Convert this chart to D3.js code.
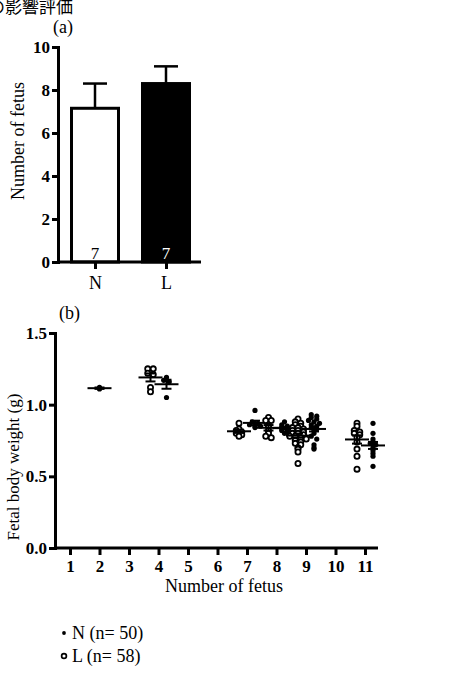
<!DOCTYPE html>
<html>
<head>
<meta charset="utf-8">
<script src="https://cdn.jsdelivr.net/npm/d3@7"></script>
<style>
  body { margin: 0; background: #fff; }
  svg { display: block; }
  text { font-family: "Liberation Serif", "Times New Roman", serif; fill: #000; }
</style>
</head>
<body>
<script>
// panel (a): number of fetus per dam
const barGroups = ["N", "L"];
const barMeans = [7.15, 8.3];
const barSem = [1.15, 0.8];
const damCounts = [7, 7];
const yTicksA = [0, 2, 4, 6, 8, 10];

// panel (b): fetal body weight by litter size
const litterSizes = [2, 4, 7, 8, 9, 11];
const weightsN = [
  [1.11, 1.12],
  [1.19, 1.17, 1.16, 1.05],
  [0.96, 0.88, 0.87, 0.86, 0.85, 0.85, 0.84],
  [0.88, 0.86, 0.85, 0.84, 0.83, 0.82, 0.81, 0.80],
  [0.93, 0.92, 0.91, 0.90, 0.89, 0.88, 0.87, 0.86, 0.85, 0.84, 0.83, 0.82, 0.80, 0.78, 0.76, 0.72, 0.70, 0.69],
  [0.87, 0.80, 0.76, 0.74, 0.73, 0.72, 0.70, 0.68, 0.66, 0.64, 0.57]
];
const weightsL = [
  [],
  [1.25, 1.25, 1.22, 1.21, 1.12, 1.09],
  [0.87, 0.83, 0.82, 0.81, 0.80, 0.79, 0.78],
  [0.91, 0.89, 0.89, 0.85, 0.82, 0.80, 0.78, 0.77],
  [0.90, 0.88, 0.87, 0.86, 0.85, 0.84, 0.84, 0.83, 0.82, 0.82, 0.81, 0.80, 0.80, 0.79, 0.78, 0.78, 0.77, 0.76, 0.75, 0.74, 0.73, 0.72, 0.70, 0.69, 0.67, 0.59],
  [0.87, 0.85, 0.82, 0.81, 0.80, 0.79, 0.77, 0.74, 0.69, 0.64, 0.55]
];
const xTicksB = [1, 2, 3, 4, 5, 6, 7, 8, 9, 10, 11];
const yTicksB = [0, 0.5, 1.0, 1.5];
const legendLabels = ["N (n= 50)", "L (n= 58)"];

const w = 469, h = 683;
const svg = d3.select("body").append("svg").attr("width", w).attr("height", h);

// header text, cut at the left edge like the scan
svg.append("text").attr("x", -12).attr("y", 13)
  .style("font-family", "'Noto Sans CJK JP'").style("font-size", "17px")
  .text("の影響評価");

// ---------- panel (a) ----------
const yA = d3.scaleLinear().domain([0, 10]).range([262, 47]);
const xA = d3.scalePoint().domain(barGroups).range([59.5, 201.5]).padding(0.5);
const barW = 47;

svg.append("text").attr("x", 53).attr("y", 33).style("font-size", "18px").text("(a)");

const gA = svg.append("g");
gA.selectAll(".err").data(barGroups).enter().append("g").each(function(d, i) {
  const g = d3.select(this);
  g.append("line").attr("x1", xA(d)).attr("x2", xA(d))
    .attr("y1", yA(barMeans[i])).attr("y2", yA(barMeans[i] + barSem[i]))
    .attr("stroke", "#000").attr("stroke-width", 2.5);
  g.append("line").attr("x1", xA(d) - 12).attr("x2", xA(d) + 12)
    .attr("y1", yA(barMeans[i] + barSem[i])).attr("y2", yA(barMeans[i] + barSem[i]))
    .attr("stroke", "#000").attr("stroke-width", 2.5);
});
gA.selectAll("rect").data(barGroups).enter().append("rect")
  .attr("x", d => xA(d) - barW / 2)
  .attr("y", (d, i) => yA(barMeans[i]))
  .attr("width", barW)
  .attr("height", (d, i) => yA(0) - yA(barMeans[i]))
  .attr("fill", (d, i) => i == 0 ? "#fff" : "#000")
  .attr("stroke", "#000").attr("stroke-width", 3);
gA.selectAll(".cnt").data(barGroups).enter().append("text")
  .attr("x", d => xA(d)).attr("y", 259)
  .attr("text-anchor", "middle").style("font-size", "17px")
  .style("fill", (d, i) => i == 0 ? "#000" : "#fff")
  .text((d, i) => damCounts[i]);

const axA = svg.append("g").attr("transform", "translate(58,0)")
  .call(d3.axisLeft(yA).tickValues(yTicksA).tickSize(6).tickPadding(2));
const axAx = svg.append("g").attr("transform", "translate(0,262)")
  .call(d3.axisBottom(xA).tickSize(7).tickPadding(7));
axAx.select(".domain").attr("d", "M58,0H201");
axAx.selectAll("text").style("font-size", "18px").style("font-family", "'Liberation Serif'");
axA.selectAll("text").style("font-size", "17px").style("font-weight", "bold").style("font-family", "'Liberation Serif'");

svg.append("text").attr("transform", "translate(24,141) rotate(-90)")
  .attr("text-anchor", "middle").style("font-size", "18px").text("Number of fetus");

// ---------- panel (b) ----------
const yB = d3.scaleLinear().domain([0, 1.5]).range([548, 333]);
const xB = d3.scaleLinear().domain([1, 11]).range([70, 365]);

svg.append("text").attr("x", 59).attr("y", 319).style("font-size", "18px").text("(b)");

// beeswarm-ish spread of the points around a centre
function spread(vals, cx) {
  const bins = d3.group(vals.map((v, i) => ({ v: v, i: i })), d => Math.round(d.v / 0.022));
  const out = [];
  bins.forEach(arr => {
    arr.forEach((d, j) => out.push({ v: d.v, x: cx + (j - (arr.length - 1) / 2) * 5.5 }));
  });
  return out;
}

const gB = svg.append("g");
litterSizes.forEach(function(k, i) {
  const hasL = weightsL[i].length > 0;
  const cN = hasL ? xB(k) + 8 : xB(k);
  const cL = xB(k) - 8;
  const groups = [];
  if (hasL) groups.push({ vals: weightsL[i], cx: cL, open: true });
  groups.push({ vals: weightsN[i], cx: cN, open: false });
  groups.forEach(function(gr) {
    const pts = spread(gr.vals, gr.cx);
    gB.selectAll(null).data(pts).enter().append("circle")
      .attr("cx", d => d.x).attr("cy", d => yB(d.v))
      .attr("r", gr.open ? 2.6 : 2.6)
      .attr("fill", gr.open ? "#fff" : "#000")
      .attr("stroke", "#000").attr("stroke-width", gr.open ? 1.8 : 0);
  });
  groups.forEach(function(gr) {
    const m = d3.mean(gr.vals);
    const se = gr.vals.length > 1 ? d3.deviation(gr.vals) / Math.sqrt(gr.vals.length) : 0;
    const g = gB.append("g").attr("stroke", "#000").attr("stroke-width", 2);
    g.append("line").attr("x1", gr.cx - 12).attr("x2", gr.cx + 12).attr("y1", yB(m)).attr("y2", yB(m));
    g.append("line").attr("x1", gr.cx).attr("x2", gr.cx).attr("y1", yB(m - se)).attr("y2", yB(m + se));
    g.append("line").attr("x1", gr.cx - 5).attr("x2", gr.cx + 5).attr("y1", yB(m - se)).attr("y2", yB(m - se));
    g.append("line").attr("x1", gr.cx - 5).attr("x2", gr.cx + 5).attr("y1", yB(m + se)).attr("y2", yB(m + se));
  });
});

const axB = svg.append("g").attr("transform", "translate(55,0)")
  .call(d3.axisLeft(yB).tickValues(yTicksB).tickFormat(d3.format(".1f")).tickSize(6).tickPadding(2));
const axBx = svg.append("g").attr("transform", "translate(0,548)")
  .call(d3.axisBottom(xB).tickValues(xTicksB).tickFormat(d3.format("d")).tickSize(7).tickPadding(5));
axBx.select(".domain").attr("d", "M55,0H378");
axB.selectAll("text").style("font-size", "17px").style("font-weight", "bold").style("font-family", "'Liberation Serif'");
axBx.selectAll("text").style("font-size", "17px").style("font-weight", "bold").style("font-family", "'Liberation Serif'");

svg.append("text").attr("x", 224).attr("y", 592).attr("text-anchor", "middle")
  .style("font-size", "18px").text("Number of fetus");
svg.append("text").attr("transform", "translate(19,467) rotate(-90)")
  .attr("text-anchor", "middle").style("font-size", "17px").text("Fetal body weight (g)");

// axis line styling
svg.selectAll(".domain").attr("stroke", "#000").attr("stroke-width", 3);
svg.selectAll(".tick line").attr("stroke", "#000").attr("stroke-width", 3);

// legend
const leg = svg.append("g");
leg.selectAll("circle").data(legendLabels).enter().append("circle")
  .attr("cx", 64).attr("cy", (d, i) => 633 + i * 23)
  .attr("r", (d, i) => i == 0 ? 1.9 : 2.4)
  .attr("fill", (d, i) => i == 0 ? "#000" : "#fff")
  .attr("stroke", "#000").attr("stroke-width", (d, i) => i == 0 ? 0 : 1.7);
leg.selectAll("text").data(legendLabels).enter().append("text")
  .attr("x", 72).attr("y", (d, i) => 639 + i * 23)
  .style("font-size", "18px").text(d => d);
</script>
</body>
</html>
